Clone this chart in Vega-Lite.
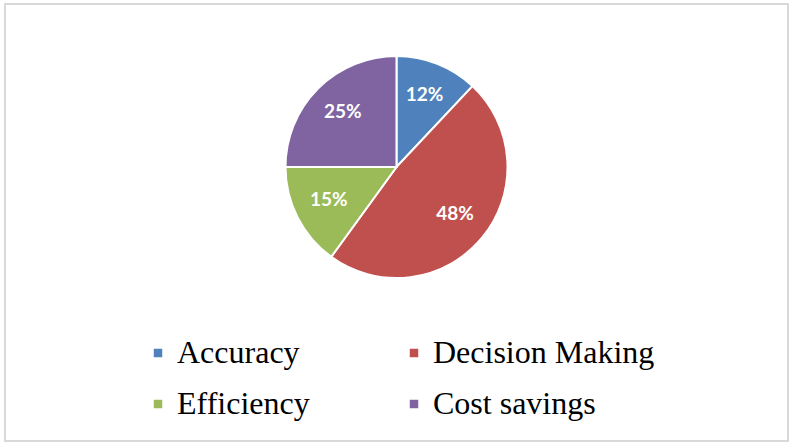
{
  "$schema": "https://vega.github.io/schema/vega-lite/v6.json",
  "width": 783,
  "height": 437,
  "autosize": {"type": "none"},
  "padding": {"left": 5, "top": 4, "right": 3, "bottom": 3},
  "background": "white",
  "view": {"stroke": "#d9d9d9", "strokeWidth": 2, "fill": "white"},
  "config": {"view": {"stroke": "#d9d9d9", "strokeWidth": 2}},
  "data": {
    "values": [
      {"category": "Accuracy", "share": 12, "idx": 1, "label": "12%"},
      {"category": "Decision Making", "share": 48, "idx": 2, "label": "48%"},
      {"category": "Efficiency", "share": 15, "idx": 3, "label": "15%"},
      {"category": "Cost savings", "share": 25, "idx": 4, "label": "25%"}
    ]
  },
  "encoding": {
    "theta": {"field": "share", "type": "quantitative", "stack": true},
    "order": {"field": "idx", "type": "quantitative"},
    "color": {
      "field": "category",
      "type": "nominal",
      "sort": null,
      "scale": {
        "domain": ["Accuracy", "Decision Making", "Efficiency", "Cost savings"],
        "range": ["#4F81BD", "#C0504D", "#9BBB59", "#8064A2"]
      },
      "legend": {
        "title": null,
        "orient": "none",
        "legendX": 137,
        "legendY": 333,
        "direction": "horizontal",
        "columns": 2,
        "columnPadding": 88,
        "rowPadding": 19,
        "symbolType": "square",
        "symbolSize": 72,
        "symbolStrokeWidth": 0,
        "labelFont": "Liberation Serif",
        "labelFontSize": 32,
        "labelColor": "#000000",
        "labelOffset": 3,
        "labelLimit": 400
      }
    }
  },
  "layer": [
    {
      "mark": {"type": "arc", "outerRadius": 111, "stroke": "white", "strokeWidth": 2, "yOffset": -55.5}
    },
    {
      "mark": {"type": "text", "radius": 76, "font": "Lato", "fontWeight": "bold", "fontSize": 19, "fill": "white", "yOffset": -57},
      "encoding": {
        "text": {"field": "label", "type": "nominal"},
        "color": {"value": "white"}
      }
    }
  ]
}
